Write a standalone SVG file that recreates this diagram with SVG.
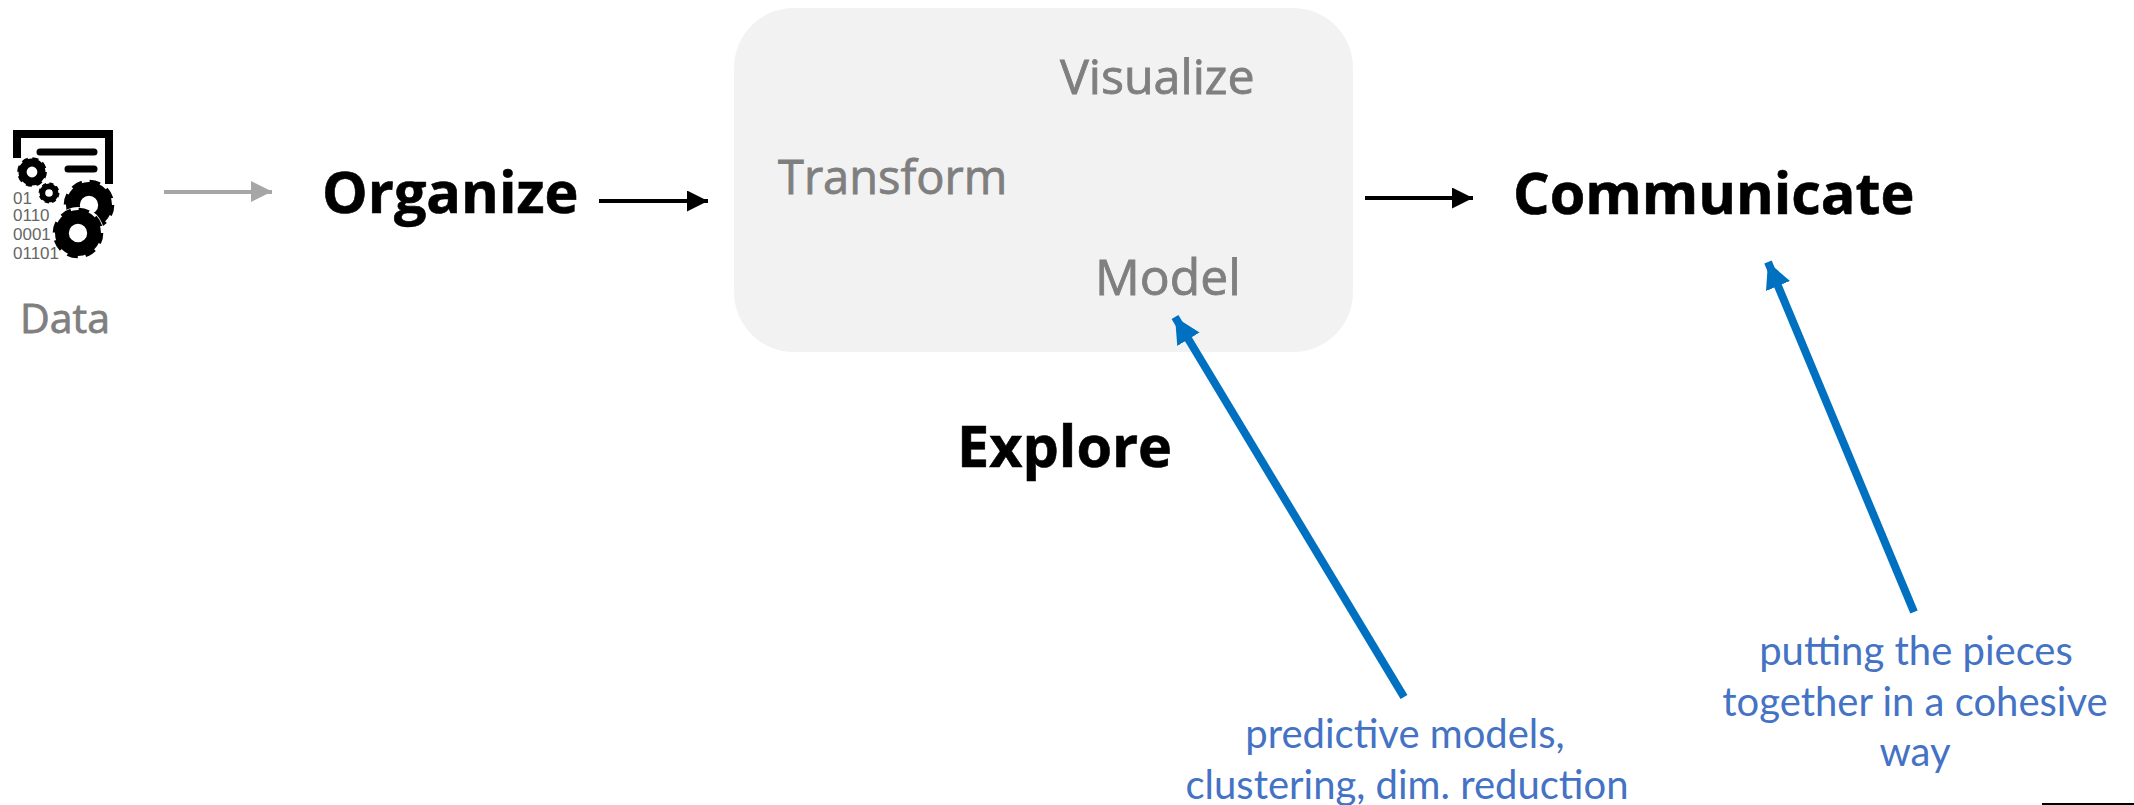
<svg xmlns="http://www.w3.org/2000/svg" width="2134" height="805" viewBox="0 0 2134 805">
<style>
.b{font-family:"Open Sans","Liberation Sans",sans-serif;font-weight:700;font-size:57.5px;fill:#000;stroke:#000;stroke-width:.6}
.g{font-family:"Open Sans","Liberation Sans",sans-serif;font-size:48px;fill:#7f7f7f;stroke:#7f7f7f;stroke-width:.8}
.n{font-family:"Lato","Open Sans",sans-serif;font-size:40px;fill:#4472c4;text-anchor:middle}
.d{font-family:"Liberation Sans",sans-serif;font-size:17px;fill:#666}
.k{stroke:#000;stroke-width:4;fill:none}
.u{stroke:#0070c0;stroke-width:8;fill:none}
</style>
<defs>
<marker id="ak" markerUnits="userSpaceOnUse" markerWidth="24" markerHeight="22" refX="21" refY="10.5" orient="auto"><path d="M0 0L21 10.5L0 21Z" fill="#000"/></marker>
<marker id="ag" markerUnits="userSpaceOnUse" markerWidth="22" markerHeight="22" refX="21" refY="11" orient="auto"><path d="M0 0L21 10.5L0 21Z" fill="#a6a6a6"/></marker>
<marker id="au" markerUnits="userSpaceOnUse" markerWidth="28" markerHeight="28" refX="26" refY="13" orient="auto"><path d="M0 0L26 13L0 26Z" fill="#0070c0"/></marker>
<g id="gear"><circle r="7" fill="none" stroke="#000" stroke-width="6"/><circle r="9.3" fill="none" stroke="#000" stroke-width="3.4" stroke-dasharray="4.2 3.1"/></g>
</defs>
<rect width="2134" height="805" fill="#fff"/>
<g id="explore-box"><rect x="734" y="8" width="619" height="344" rx="60" fill="#f2f2f2"/></g>
<g id="data">
<path d="M17 158V134H109V184" fill="none" stroke="#000" stroke-width="8"/>
<path d="M40 152H94M68 169H94" stroke="#000" stroke-width="7" stroke-linecap="round"/>
<use href="#gear" transform="translate(32 172) scale(1.35)"/>
<use href="#gear" transform="translate(49 193) scale(.95)"/>
<use href="#gear" transform="translate(89 205) scale(2.3)"/>
<circle cx="78" cy="233" r="26" fill="#fff"/>
<use href="#gear" transform="translate(78 233) scale(2.3)"/>
<text class="d" x="13" y="204">01</text><text class="d" x="13" y="221">0110</text><text class="d" x="13" y="240">0001</text><text class="d" x="13" y="259">01101</text>
<text class="g" style="font-size:41px" x="20" y="333">Data</text>
</g>
<g id="organize"><text class="b" x="322" y="213">Organize</text></g>
<g id="visualize"><text class="g" x="1060" y="94" style="font-size:48.3px">Visualize</text></g>
<g id="transform"><text class="g" x="778" y="194" style="font-size:47px">Transform</text></g>
<g id="model"><text class="g" x="1095" y="295" style="font-size:49.8px">Model</text></g>
<g id="explore"><text class="b" x="957" y="467">Explore</text></g>
<g id="communicate"><text class="b" x="1513" y="214">Communicate</text></g>
<g id="note-model"><text class="n" x="1405" y="748">predictive models,</text><text class="n" x="1407" y="799">clustering, dim. reduction</text></g>
<g id="note-communicate"><text class="n" x="1916" y="665">putting the pieces</text><text class="n" x="1915" y="716">together in a cohesive</text><text class="n" x="1915" y="766">way</text></g>
<g id="connectors">
<path d="M164 192H272" stroke="#a6a6a6" stroke-width="4" fill="none" marker-end="url(#ag)"/>
<path d="M599 201H708" class="k" marker-end="url(#ak)"/>
<path d="M1365 198H1473" class="k" marker-end="url(#ak)"/>
<path d="M1404 697L1175 317" class="u" marker-end="url(#au)"/>
<path d="M1914 612L1768 262" class="u" marker-end="url(#au)"/>
<path d="M2042 804H2134" stroke="#000" stroke-width="2" fill="none"/>
</g>
</svg>
